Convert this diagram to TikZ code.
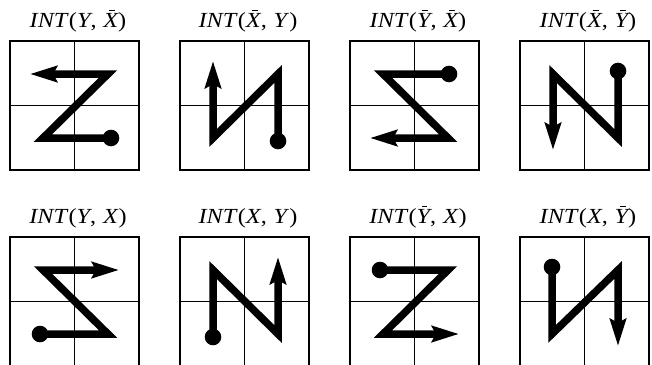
\documentclass[tikz,border=0pt]{standalone}
\usepackage{fontspec}
\usepackage{graphicx}
\setmainfont{Liberation Serif}
\usetikzlibrary{arrows.meta}
\newcommand\ovl[1]{\setbox0\hbox{#1}\rlap{\kern0.38\wd0\raise\dimexpr\ht0+2.4pt\relax\hbox{\rule{0.42\wd0}{1pt}}}\box0}
\newcommand\intlab[2]{\scalebox{1.13}[1]{{\itshape INT}\textup{(}{\itshape #1},\kern0.28em{\itshape #2}\textup{)}}}
\tikzset{
  gridline/.style={line width=1.2pt},
  zpath/.style={line width=7.5pt, line join=miter, -{Stealth[length=27pt,width=16pt,inset=4pt]}},
  lab/.style={anchor=base, inner sep=0pt, font=\fontsize{21.5}{23}\selectfont}
}
\newcommand\panel[5]{%
  \begin{scope}[shift={(#1,#2)}]
    \draw[gridline] (0,0) rectangle (129,129) (64.5,0) -- (64.5,129) (0,64.5) -- (129,64.5);
    \node[lab] (t#1#2) at (68,-13.5) {#3};
    \draw[zpath] #4;
    \fill #5 circle[radius=8.3pt];
  \end{scope}}
\begin{document}
\begin{tikzpicture}[x=1pt,y=-1pt]
\useasboundingbox (0,0) rectangle (652,364);
\clip (0,0) rectangle (652,364);
\panel{10}{41}{\intlab{Y}{\ovl{X}}}{(101,97) -- (33,97) -- (98,33) -- (20,33)}{(101,97)}
\panel{180}{41}{\intlab{\ovl{X}}{Y}}{(98,100) -- (98,33) -- (33,97) -- (33,20)}{(98,100)}
\panel{350}{41}{\intlab{\ovl{Y}}{\ovl{X}}}{(99,33) -- (33,33) -- (98,97) -- (20,97)}{(99,33)}
\panel{520}{41}{\intlab{\ovl{X}}{\ovl{Y}}}{(98,30) -- (98,97) -- (33,33) -- (33,109)}{(98,30)}
\panel{10}{237}{\intlab{Y}{X}}{(30,97) -- (98,97) -- (33,33) -- (109,33)}{(30,97)}
\panel{180}{237}{\intlab{X}{Y}}{(33,100) -- (33,33) -- (98,97) -- (98,20)}{(33,100)}
\panel{350}{237}{\intlab{\ovl{Y}}{X}}{(30,33) -- (98,33) -- (33,97) -- (109,97)}{(30,33)}
\panel{520}{237}{\intlab{X}{\ovl{Y}}}{(32,30) -- (32,97) -- (98,33) -- (98,109)}{(32,30)}
\end{tikzpicture}
\end{document}
